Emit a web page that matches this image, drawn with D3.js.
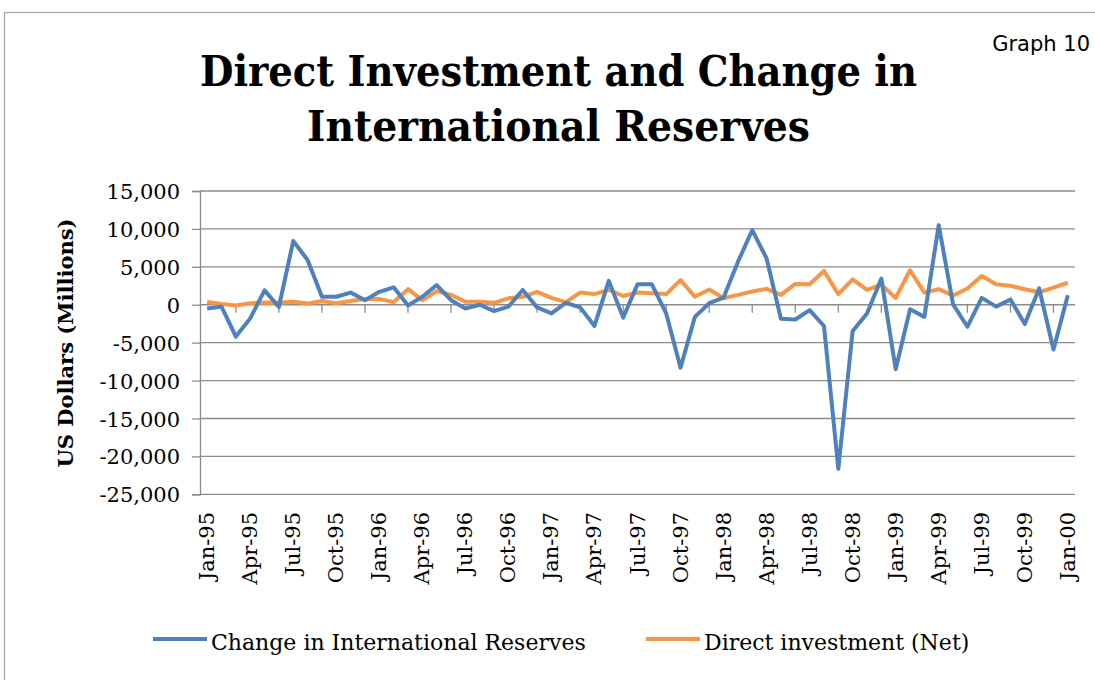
<!DOCTYPE html>
<html>
<head>
<meta charset="utf-8">
<script src="https://cdn.jsdelivr.net/npm/d3@7"></script>
<style>
  body { margin: 0; background: #fff; }
  svg { display: block; }
</style>
</head>
<body>
<svg id="chart"></svg>
<script>
// monthly categories Jan-95 .. Jan-00
var months = d3.timeMonths(new Date(1995, 0, 1), new Date(2000, 1, 1));
var fmt = d3.timeFormat('%b-%y');

// Change in International Reserves (US$ millions)
var reserves = [
  -500, -250, -4200, -1800, 1900, -300, 8400, 5900, 1050, 1050, 1600, 600,
  1700, 2300, -100, 1050, 2600, 600, -500, 0, -850, -250, 1950, -350,
  -1150, 250, -350, -2800, 3150, -1700, 2700, 2700, -1150, -8300, -1600, 200,
  950, 5650, 9850, 6100, -1850, -1950, -700, -2800, -21650, -3450, -1150, 3450,
  -8500, -600, -1600, 10500, 50, -2900, 900, -250, 700, -2550, 2150, -5900,
  1250
];

// Direct investment (Net)
var directInv = [
  350, 100, -100, 200, 300, 250, 400, 150, 500, 200, 500, 750,
  750, 350, 2050, 600, 1800, 1300, 400, 400, 250, 850, 1050, 1700,
  900, 350, 1600, 1400, 1950, 1150, 1600, 1500, 1400, 3250, 1050, 2000,
  850, 1300, 1750, 2100, 1300, 2750, 2700, 4450, 1400, 3350, 1950, 2650,
  900, 4550, 1600, 2050, 1200, 2150, 3800, 2700, 2500, 2050, 1650, 2250,
  2900
];

var yTicks = [15000, 10000, 5000, 0, -5000, -10000, -15000, -20000, -25000];

var width = 1095, height = 680;
var blue = '#4F81BD', orange = '#F79646', grid = '#8C8C8C';
var serif = 'DejaVu Serif, serif';

var svg = d3.select('#chart')
    .attr('width', width)
    .attr('height', height);

// outer chart frame
svg.append('rect')
    .attr('x', 4.5).attr('y', 12.5)
    .attr('width', 1100).attr('height', 700)
    .attr('fill', 'none')
    .attr('stroke', '#A6A6A6')
    .attr('stroke-width', 1.2);

var x = d3.scaleBand()
    .domain(months.map(function(d, i) { return i; }))
    .range([200, 1075])
    .padding(0);

var y = d3.scaleLinear()
    .domain([-25000, 15000])
    .range([494.3, 191]);

function cx(i) { return x(i) + x.bandwidth() / 2; }

// horizontal gridlines
svg.append('g')
    .selectAll('line')
    .data(yTicks)
    .enter().append('line')
    .attr('x1', 200).attr('x2', 1075)
    .attr('y1', function(d) { return y(d); })
    .attr('y2', function(d) { return y(d); })
    .attr('stroke', grid)
    .attr('stroke-width', 1.3);

// y axis (plain hyphen for negatives, like the original)
var comma = d3.format(',');
var yAxis = d3.axisLeft(y)
    .tickValues(yTicks)
    .tickSize(8)
    .tickPadding(12)
    .tickFormat(function(d) { return comma(d).replace('\u2212', '-'); });

var gy = svg.append('g')
    .attr('transform', 'translate(200,0)')
    .call(yAxis);
gy.select('.domain').attr('stroke', grid).attr('stroke-width', 1.3);
gy.selectAll('.tick line').attr('stroke', grid).attr('stroke-width', 1.3);
gy.selectAll('.tick text')
    .attr('font-family', serif)
    .attr('font-size', 21)
    .attr('fill', '#000')
    .attr('dy', '0.36em');

// category ticks on the zero line, every 3 months at boundaries
var tickIdx = months.map(function(d, i) { return i; }).filter(function(i) { return i % 3 === 0 && i > 0; });
svg.append('g')
    .selectAll('line')
    .data(tickIdx)
    .enter().append('line')
    .attr('x1', function(i) { return x(i) - x.bandwidth() * 0.5; })
    .attr('x2', function(i) { return x(i) - x.bandwidth() * 0.5; })
    .attr('y1', y(0))
    .attr('y2', y(0) + 8)
    .attr('stroke', grid)
    .attr('stroke-width', 1.3);

// x labels, rotated
var labelIdx = months.map(function(d, i) { return i; }).filter(function(i) { return i % 3 === 0; });
svg.append('g')
    .selectAll('text')
    .data(labelIdx)
    .enter().append('text')
    .attr('transform', function(i) { return 'translate(' + (cx(i) + 7) + ',512) rotate(-90)'; })
    .attr('text-anchor', 'end')
    .attr('font-family', serif)
    .attr('font-size', 21)
    .text(function(i) { return fmt(months[i]); });

// lines
var line = d3.line()
    .x(function(d, i) { return cx(i); })
    .y(function(d) { return y(d); });

svg.append('path')
    .datum(directInv)
    .attr('d', line)
    .attr('fill', 'none')
    .attr('stroke', orange)
    .attr('stroke-width', 4)
    .attr('stroke-linejoin', 'round');

svg.append('path')
    .datum(reserves)
    .attr('d', line)
    .attr('fill', 'none')
    .attr('stroke', blue)
    .attr('stroke-width', 4)
    .attr('stroke-linejoin', 'round');

// title (squeezed a bit to the original's width)
var title = svg.append('g')
    .attr('font-family', serif)
    .attr('font-weight', 'bold')
    .attr('font-size', 43);
title.append('text')
    .attr('x', 200).attr('y', 86)
    .attr('textLength', 717)
    .attr('lengthAdjust', 'spacingAndGlyphs')
    .text('Direct Investment and Change in');
title.append('text')
    .attr('x', 307).attr('y', 141)
    .attr('textLength', 503)
    .attr('lengthAdjust', 'spacingAndGlyphs')
    .text('International Reserves');

svg.append('text')
    .attr('x', 1090).attr('y', 51)
    .attr('text-anchor', 'end')
    .attr('font-family', 'DejaVu Sans, sans-serif')
    .attr('font-size', 21)
    .text('Graph 10');

// y axis title
svg.append('text')
    .attr('transform', 'translate(73,343) rotate(-90)')
    .attr('text-anchor', 'middle')
    .attr('font-family', serif)
    .attr('font-weight', 'bold')
    .attr('font-size', 21)
    .text('US Dollars (Millions)');

// legend
var legend = [
  { name: 'Change in International Reserves', color: blue, x: 153 },
  { name: 'Direct investment (Net)', color: orange, x: 646 }
];
var lg = svg.append('g')
    .selectAll('g')
    .data(legend)
    .enter().append('g')
    .attr('transform', function(d) { return 'translate(' + d.x + ',639)'; });
lg.append('line')
    .attr('x1', 0).attr('x2', 54)
    .attr('stroke', function(d) { return d.color; })
    .attr('stroke-width', 4);
lg.append('text')
    .attr('x', 58).attr('y', 11)
    .attr('font-family', serif)
    .attr('font-size', 22)
    .text(function(d) { return d.name; });
</script>
</body>
</html>
